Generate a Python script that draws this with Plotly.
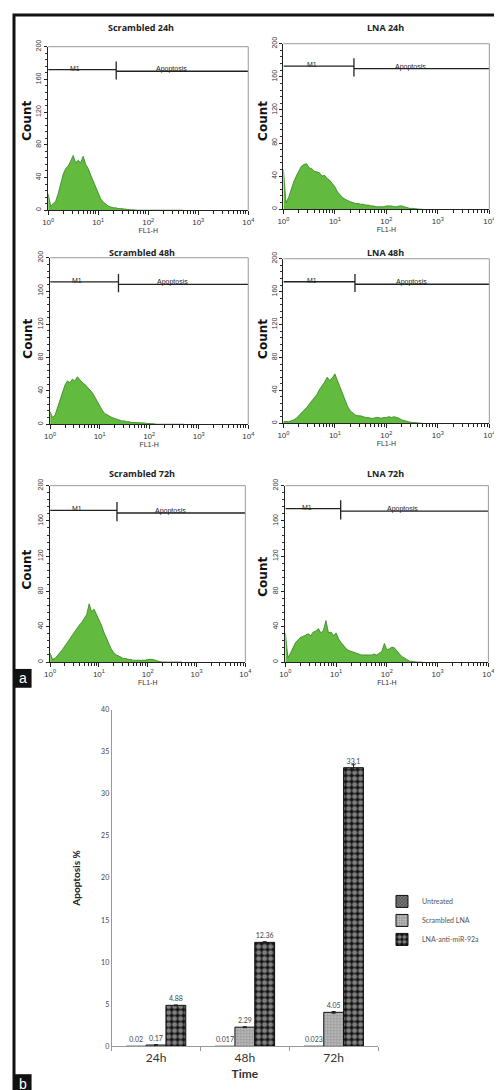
import plotly.graph_objects as go

# ---------------- data ----------------
FL1_LOG = [0.00, 0.05, 0.10, 0.15, 0.20, 0.25, 0.30, 0.35, 0.40, 0.45,
           0.50, 0.55, 0.60, 0.65, 0.70, 0.75, 0.80, 0.85, 0.90, 0.95,
           1.00, 1.05, 1.10, 1.15, 1.20, 1.25, 1.30, 1.35, 1.40, 1.45,
           1.50, 1.55, 1.60, 1.65, 1.70, 1.75, 1.80, 1.85, 1.90, 1.95,
           2.00, 2.05, 2.10, 2.15, 2.20, 2.25, 2.30, 2.35, 2.40, 2.45,
           2.50, 2.55, 2.60, 2.65, 2.70]

PANEL_TITLES = ["Scrambled 24h", "LNA 24h", "Scrambled 48h", "LNA 48h", "Scrambled 72h", "LNA 72h"]

COUNTS_S24 = [20, 5, 8, 11, 20, 34, 44, 51, 54, 60,
              67, 58, 61, 58, 66, 56, 51, 43, 36, 27,
              21, 14, 10, 7, 5, 4, 3, 3, 2, 2,
              1.5, 1, 1, 0.5, 0.5, 0, 0, 0, 0, 0,
              0, 0, 0, 0, 0, 0, 0, 0, 0, 0,
              0, 0, 0, 0, 0]
COUNTS_L24 = [48, 8, 14, 24, 33, 40, 47, 52, 54, 55,
              50, 49, 46, 45, 44, 40, 41, 37, 35, 31,
              27, 21, 17, 14, 12, 10, 9, 8, 7, 7,
              6, 6, 5, 5, 4, 4, 3, 3, 3, 3,
              4, 4, 4, 3, 3, 4, 4, 3, 2, 1,
              1, 0.5, 0, 0, 0]
COUNTS_S48 = [15, 8, 11, 20, 30, 40, 47, 52, 50, 54,
              52, 57, 53, 50, 48, 45, 42, 38, 33, 27,
              22, 17, 13, 11, 9, 8, 7, 6, 5, 4,
              4, 3, 3, 2, 2, 2, 2, 1.5, 1.5, 1,
              1, 1, 0.5, 0, 0, 0, 0, 0, 0, 0,
              0, 0, 0, 0, 0]
COUNTS_L48 = [2, 2, 2, 3, 4, 6, 9, 12, 15, 19,
              23, 27, 31, 35, 41, 45, 50, 56, 52, 55,
              60, 52, 44, 36, 27, 20, 15, 12, 10, 9,
              9, 8, 7, 7, 6, 6, 7, 7, 6, 7,
              7, 8, 7, 8, 7, 6, 4, 3, 2, 1.5,
              1, 1, 0.5, 0, 0]
COUNTS_S72 = [10, 3, 4, 7, 10, 14, 18, 22, 27, 30,
              35, 38, 42, 45, 50, 54, 66, 57, 60, 54,
              50, 42, 34, 27, 20, 15, 11, 8, 7, 5,
              4, 4, 3, 3, 2, 2, 2, 2, 2, 2,
              3, 3, 3, 2, 1, 0.5, 0, 0, 0, 0,
              0, 0, 0, 0, 0]
COUNTS_L72 = [33, 5, 10, 16, 22, 25, 28, 29, 31, 32,
              30, 34, 35, 38, 33, 36, 47, 33, 34, 30,
              33, 26, 22, 18, 15, 13, 12, 11, 10, 9,
              8, 8, 8, 8, 8, 9, 8, 10, 12, 21,
              14, 15, 17, 16, 12, 9, 6, 4, 2, 1,
              0.5, 0, 0, 0, 0]
ALL_COUNTS = [COUNTS_S24, COUNTS_L24, COUNTS_S48, COUNTS_L48, COUNTS_S72, COUNTS_L72]

GATE_LOG = [1.36, 1.37, 1.38, 1.39, 1.37, 1.09]      # log10 FL1-H of the M1 / Apoptosis divider
M1_LEVEL = [172, 173, 171, 172, 172, 174]
APOP_LEVEL = [170, 170, 168, 169, 169, 171]

X_TICK_VALUES = [1, 10, 100, 1000, 10000]
X_TICK_TEXT = ["10<sup>0</sup>", "10<sup>1</sup>", "10<sup>2</sup>", "10<sup>3</sup>", "10<sup>4</sup>"]
Y_TICK_VALUES = [0, 40, 80, 120, 160, 200]

TIME = ["24h", "48h", "72h"]
UNTREATED = [0.02, 0.017, 0.023]
SCRAMBLED = [0.17, 2.29, 4.05]
LNA_ANTI = [4.88, 12.36, 33.1]
SCRAMBLED_ERR = [0.05, 0.06, 0.1]
LNA_ANTI_ERR = [0.05, 0.08, 0.35]
SERIES_NAMES = ["Untreated", "Scrambled LNA", "LNA-anti-miR-92a"]

# ---------------- geometry ----------------
W, H = 502, 1090
PANEL_PX = [(35, 240, 32, 197), (276, 487, 29, 196),
            (37, 240, 245, 413), (276, 487, 246, 412),
            (37, 237, 475, 653), (278, 486, 475, 653)]
TITLE_PX = [(130, 13), (381, 13), (131, 240), (381, 240), (131, 463), (381, 463)]
COUNT_PX = [(13, 107), (255, 107), (14, 327), (255, 327), (13, 560), (255, 567)]
BAR_PX = (100, 373, 701, 1041)


def xdom(l, r):
    return [l / W, r / W]


def ydom(t, b):
    return [1 - b / H, 1 - t / H]


GREEN_FILL = "rgb(98,186,62)"
GREEN_LINE = "rgb(52,130,34)"

fig = go.Figure()
layout = {}
annotations = []
shapes = []

minor_vals = [m * d for d in [1, 10, 100, 1000] for m in [2, 3, 4, 5, 6, 7, 8, 9]]

for i in range(6):
    xs = "" if i == 0 else str(i + 1)
    xa, ya = "x" + xs, "y" + xs
    fl1 = [10 ** v for v in FL1_LOG]
    fig.add_trace(go.Scatter(
        x=fl1, y=ALL_COUNTS[i], xaxis=xa, yaxis=ya, mode="lines",
        fill="tozeroy", fillcolor=GREEN_FILL, line=dict(color=GREEN_LINE, width=0.8),
        showlegend=False, hoverinfo="skip"))
    g = 10 ** GATE_LOG[i]
    mid = (M1_LEVEL[i] + APOP_LEVEL[i]) / 2
    fig.add_trace(go.Scatter(
        x=[1, g, None, g, g, None, g, 10000],
        y=[M1_LEVEL[i], M1_LEVEL[i], None, mid - 11, mid + 11, None, APOP_LEVEL[i], APOP_LEVEL[i]],
        xaxis=xa, yaxis=ya, mode="lines", line=dict(color="#222", width=1.3),
        showlegend=False, hoverinfo="skip", cliponaxis=False))
    l, r, t, b = PANEL_PX[i]
    layout["xaxis" + xs] = dict(
        domain=xdom(l, r), anchor=ya, type="log", range=[0, 4],
        tickvals=X_TICK_VALUES, ticktext=X_TICK_TEXT,
        tickfont=dict(family="Liberation Sans", size=8, color="#333"),
        ticks="outside", ticklen=4, tickwidth=1, tickcolor="#222",
        minor=dict(tickvals=minor_vals, ticks="outside", ticklen=3, tickcolor="#222", showgrid=False),
        showline=True, linecolor="#222", linewidth=1.2, showgrid=False, zeroline=False,
        title=dict(text="FL1-H", font=dict(family="Liberation Sans", size=7, color="#333"), standoff=2),
        fixedrange=True)
    layout["yaxis" + xs] = dict(
        domain=ydom(t, b), anchor=xa, range=[0, 200],
        tickvals=Y_TICK_VALUES, tickangle=-90,
        tickfont=dict(family="Liberation Sans", size=7, color="#333"),
        ticks="outside", ticklen=3, tickcolor="#222",
        minor=dict(dtick=8, ticks="outside", ticklen=2, tickcolor="#333", showgrid=False),
        showline=True, linecolor="#222", linewidth=1.2, showgrid=False, zeroline=False,
        fixedrange=True)
    # grey top/right frame
    shapes.append(dict(type="line", xref=xa + " domain", yref=ya + " domain",
                       x0=0, x1=1, y0=1, y1=1, line=dict(color="#999", width=1)))
    shapes.append(dict(type="line", xref=xa + " domain", yref=ya + " domain",
                       x0=1, x1=1, y0=0, y1=1, line=dict(color="#999", width=1)))
    # gate labels
    annotations.append(dict(xref=xa, yref=ya, x=0.4 * GATE_LOG[i], y=M1_LEVEL[i],
                            text="M1", showarrow=False, yanchor="bottom", yshift=-4,
                            font=dict(family="Liberation Sans Narrow, Liberation Sans", size=7, color="#222")))
    annotations.append(dict(xref=xa, yref=ya, x=GATE_LOG[i] + 0.42 * (4 - GATE_LOG[i]), y=APOP_LEVEL[i],
                            text="Apoptosis", showarrow=False, yanchor="bottom", yshift=-4,
                            font=dict(family="Liberation Sans Narrow, Liberation Sans", size=7, color="#222")))
    tx, ty = TITLE_PX[i]
    annotations.append(dict(xref="paper", yref="paper", x=tx / W, y=1 - ty / H,
                            text="<b>" + PANEL_TITLES[i] + "</b>", showarrow=False,
                            xanchor="center", yanchor="middle",
                            font=dict(family="Open Sans", size=9, color="#222")))
    cx, cy = COUNT_PX[i]
    annotations.append(dict(xref="paper", yref="paper", x=cx / W, y=1 - cy / H,
                            text="<b>Count</b>", showarrow=False, textangle=-90,
                            xanchor="center", yanchor="middle",
                            font=dict(family="DejaVu Sans", size=12, color="#111")))

# ---------------- bar chart ----------------
bar_styles = [
    dict(shape="x", fgcolor="#1a1a1a", bgcolor="#8a8a8a", size=3, solidity=0.6),
    dict(shape=".", fgcolor="#f8f8f8", bgcolor="#8c8c8c", size=3, solidity=0.55),
    dict(shape=".", fgcolor="#eeeeee", bgcolor="#111", size=6, solidity=0.55),
]
bar_values = [UNTREATED, SCRAMBLED, LNA_ANTI]
bar_errors = [None, SCRAMBLED_ERR, LNA_ANTI_ERR]
for k in range(3):
    err = None
    if bar_errors[k] is not None:
        err = dict(type="data", array=bar_errors[k], visible=True, color="#222", thickness=1, width=2)
    fig.add_trace(go.Bar(
        x=TIME, y=bar_values[k], name=SERIES_NAMES[k], xaxis="x7", yaxis="y7",
        marker=dict(color=bar_styles[k]["bgcolor"], pattern=bar_styles[k],
                    line=dict(color="#111", width=1)),
        error_y=err,
        text=[str(v) for v in bar_values[k]], textposition="outside",
        textfont=dict(family="Lato", size=7, color="#444"), cliponaxis=False,
        hoverinfo="skip"))

bl, br, bt, bb = BAR_PX
layout["xaxis7"] = dict(
    domain=xdom(bl, br), anchor="y7", showline=True, linecolor="#999", linewidth=1,
    ticks="outside", tickson="boundaries", ticklen=4, tickcolor="#999",
    tickfont=dict(family="Lato", size=12, color="#333"),
    title=dict(text="<b>Time</b>", font=dict(family="Lato", size=12, color="#333"), standoff=5),
    showgrid=False, fixedrange=True)
layout["yaxis7"] = dict(
    domain=ydom(bt, bb), anchor="x7", range=[0, 40], dtick=5,
    showline=True, linecolor="#999", linewidth=1, ticks="",
    tickfont=dict(family="Lato", size=7, color="#444"),
    title=dict(text="<b>Apoptosis %</b>", font=dict(family="Lato", size=10, color="#222"), standoff=18),
    showgrid=False, zeroline=False, fixedrange=True)

# panel labels and outer border
for lab, (y0, y1) in [("a", (660, 679)), ("b", (1069, 1088))]:
    shapes.append(dict(type="rect", xref="paper", yref="paper", x0=0, x1=18 / W,
                       y0=1 - y1 / H, y1=1 - y0 / H, fillcolor="#111", line=dict(width=0)))
    annotations.append(dict(xref="paper", yref="paper", x=9 / W, y=1 - (y0 + y1) / 2 / H,
                            text=lab, showarrow=False, xanchor="center", yanchor="middle",
                            font=dict(family="Liberation Sans", size=14, color="white")))
shapes.append(dict(type="rect", xref="paper", yref="paper", x0=0, x1=1, y0=0, y1=1,
                   line=dict(color="#111", width=3)))

fig.update_layout(
    width=W, height=H, margin=dict(l=0, r=0, t=0, b=0),
    paper_bgcolor="white", plot_bgcolor="white",
    barmode="group", bargap=0.33, bargroupgap=0,
    legend=dict(x=377 / W, y=1 - 880 / H, xanchor="left", yanchor="top",
                font=dict(family="Lato", size=7, color="#555"),
                bgcolor="rgba(0,0,0,0)", itemwidth=30, tracegroupgap=0),
    annotations=annotations, shapes=shapes,
    **layout)

fig.write_html("out.html")
